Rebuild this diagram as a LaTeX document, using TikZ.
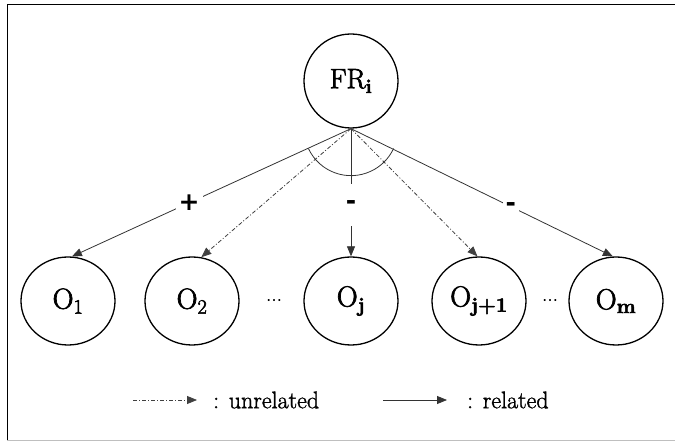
\documentclass[tikz,border=0pt]{standalone}
\usepackage{fontspec}
\usetikzlibrary{arrows.meta,shapes.geometric}

\newfontfamily\nodeserif{Latin Modern Roman}[FakeBold=2.5]
\newfontfamily\legendserif{Latin Modern Roman}[FakeBold=1.5]
\newfontfamily\signfont{DejaVu Sans}
\newfontfamily\symfont{DejaVu Sans}

\tikzset{
  rootnode/.style={circle, draw=black, line width=1.3pt, minimum size=94pt, inner sep=0pt,
    font=\nodeserif\fontsize{28}{32}\selectfont},
  objnode/.style={ellipse, draw=black, line width=1.3pt, minimum width=94pt, minimum height=88pt,
    inner sep=0pt, font=\nodeserif\fontsize{29}{32}\selectfont},
  tip/.style={-{Triangle[length=10pt,width=8pt]}},
  related/.style={tip, draw=black!80, line width=0.8pt},
  unrelated/.style={tip, draw=black!75, line width=0.8pt,
    dash pattern=on 4pt off 2pt on 1pt off 2pt},
  signlabel/.style={fill=white, inner xsep=3pt, inner ysep=0pt, minimum height=42pt,
    font=\signfont\bfseries\fontsize{25}{28}\selectfont},
  dotsnode/.style={inner sep=0pt, font=\symfont\fontsize{16}{20}\selectfont},
  legendtext/.style={anchor=west, inner sep=0pt, font=\legendserif\fontsize{24}{27}\selectfont},
}

\begin{document}
\begin{tikzpicture}[x=1pt, y=1pt]
  \useasboundingbox (0,0) rectangle (675,441);

  % frame
  \draw[black, line width=1pt] (7,0) -- (7,436) -- (675,436);
  \draw[black!25, line width=0.8pt] (7,1) -- (675,1);

  % root and object nodes
  \node[rootnode] (FR) at (351,360) {FR\textsubscript{\textbf{i}}};
  \node[objnode] (O1) at (68,140)  {O\textsubscript{1}};
  \node[objnode] (O2) at (192,140) {O\textsubscript{2}};
  \node[objnode] (Oj) at (351,140) {O\textsubscript{\textbf{j}}};
  \node[objnode] (Oj1) at (479,140) {O\textsubscript{\textbf{j+1}}};
  \node[objnode] (Om) at (616,140) {O\textsubscript{\textbf{m}}};

  \node[dotsnode] (dA) at (274,138) {⋯};
  \node[dotsnode] (dB) at (550,138) {⋯};

  % connectors
  \draw[related] (FR.south) -- node[signlabel, pos=0.58] (lp) {+} (O1.85);
  \draw[unrelated] (FR.south) -- (O2.78);
  \draw[related] (FR.south) -- node[signlabel, pos=0.6] (lj) {-} (Oj.north);
  \draw[unrelated] (FR.south) -- (Oj1.92);
  \draw[related] (FR.south) -- node[signlabel, pos=0.61] (lm) {-} (Om.94);

  % angle arc spanning the fan of connectors
  \draw[black!80, line width=0.8pt] ([shift={(205:47pt)}]FR.south)
    arc[start angle=205, end angle=335, radius=47pt];

  % legend
  \coordinate (ua) at (133,41);
  \coordinate (ub) at (197,41);
  \draw[unrelated] (ua) -- (ub);
  \node[legendtext] (ut) at (213,41) {: unrelated};
  \coordinate (ra) at (383,41);
  \coordinate (rb) at (447,41);
  \draw[related] (ra) -- (rb);
  \node[legendtext] (rt) at (467,41) {: related};
\end{tikzpicture}
\end{document}
